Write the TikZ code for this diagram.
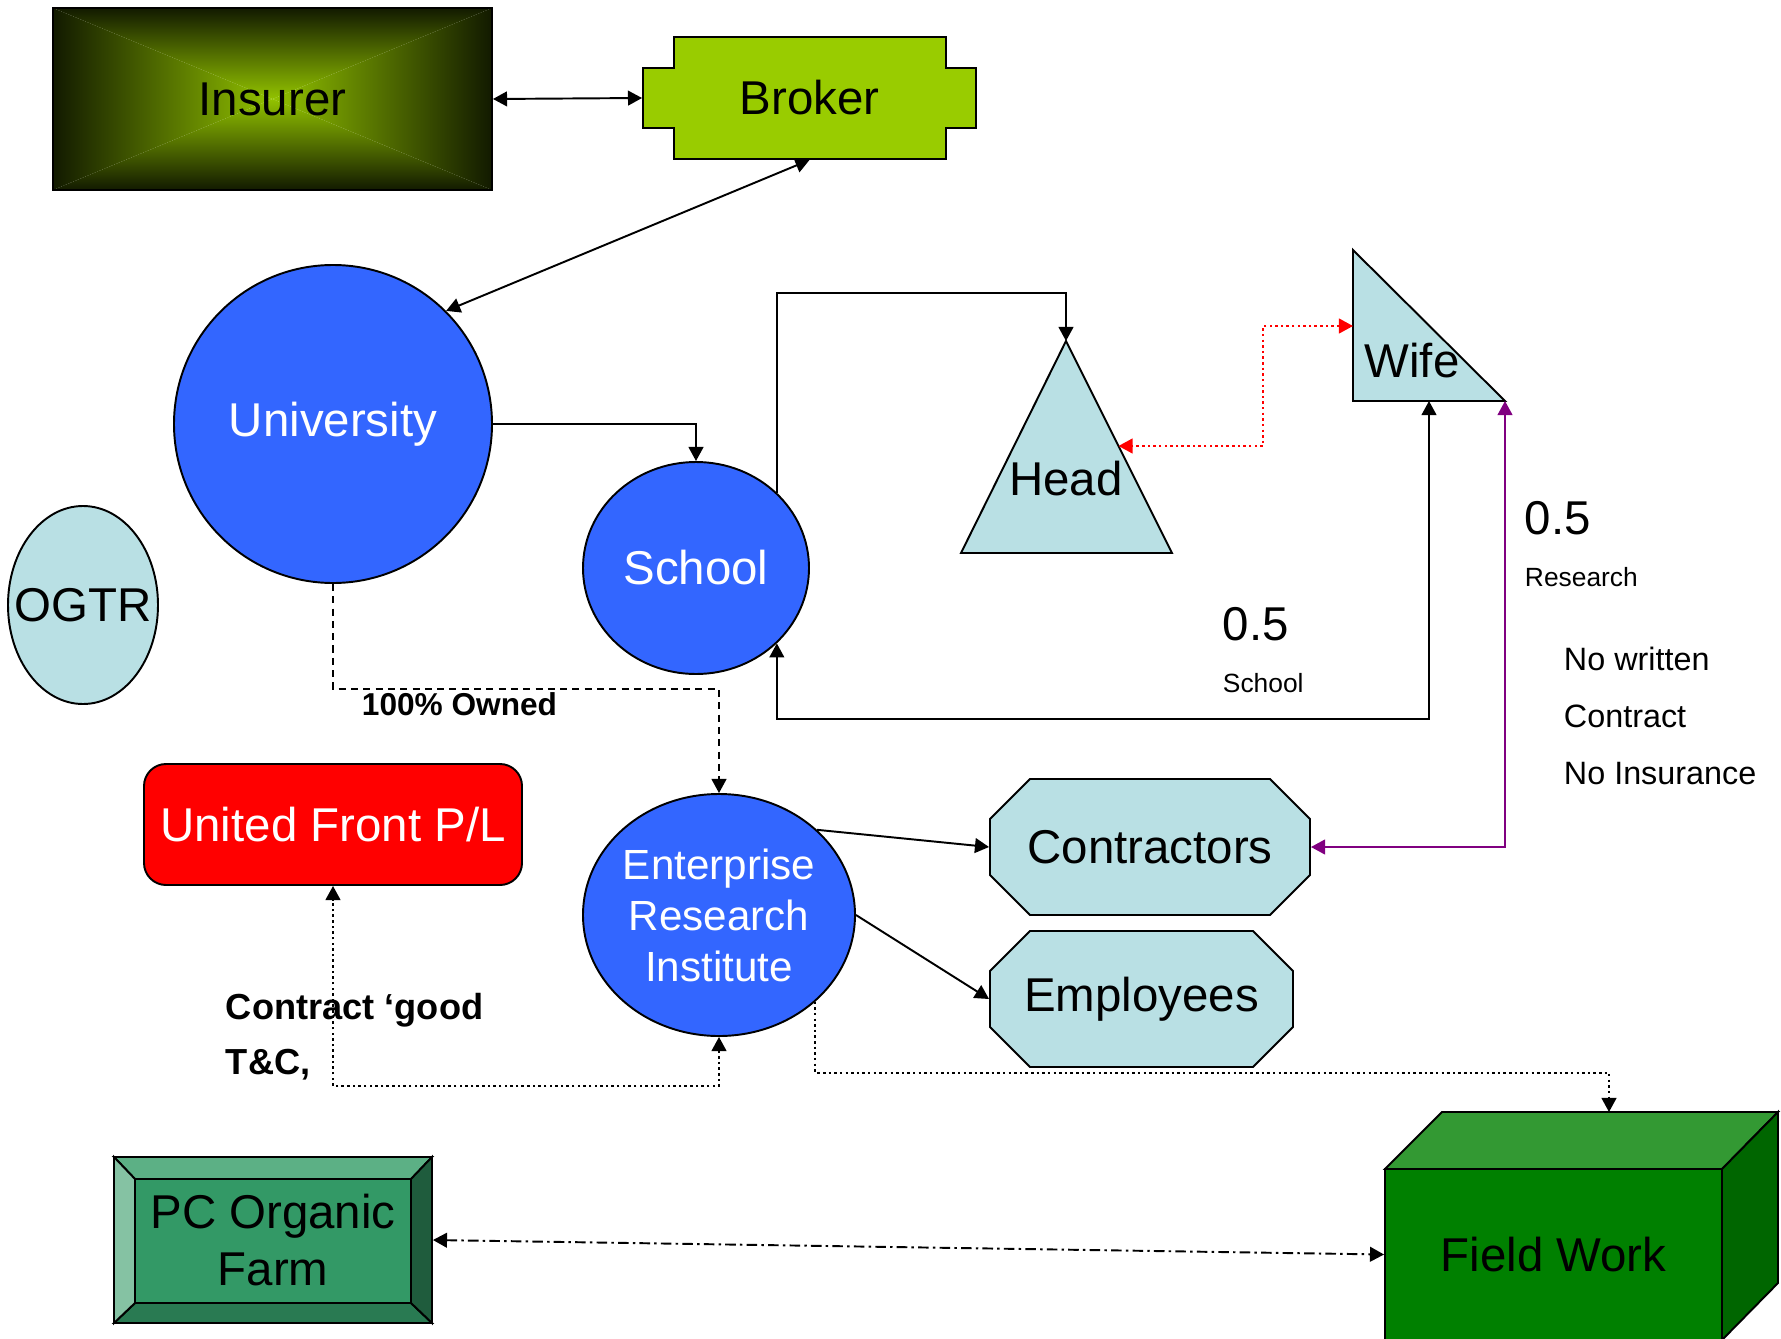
\documentclass[tikz,border=0pt]{standalone}
\usepackage{fontspec}
\setmainfont{Liberation Sans}
\usetikzlibrary{arrows.meta,shapes.geometric}
\definecolor{uniblue}{RGB}{51,102,255}
\definecolor{paleblue}{RGB}{185,224,228}
\definecolor{brokergreen}{RGB}{153,204,0}
\definecolor{insmid}{RGB}{146,194,0}
\definecolor{insdark}{RGB}{18,26,0}
\definecolor{farmface}{RGB}{51,153,102}
\definecolor{farmlight}{RGB}{92,176,133}
\definecolor{farmpale}{RGB}{133,194,163}
\definecolor{farmdark}{RGB}{31,92,61}
\definecolor{farmlow}{RGB}{41,122,82}
\definecolor{fieldtop}{RGB}{51,153,51}
\definecolor{fieldfront}{RGB}{0,128,0}
\definecolor{fieldside}{RGB}{0,102,0}
\definecolor{linkpurple}{RGB}{128,0,128}
\begin{document}
\begin{tikzpicture}[line width=0.55pt, >={Triangle[length=4pt,width=4.2pt]},
  every node/.style={inner sep=0pt},
  big/.style={font=\fontsize{13.5}{16.2}\selectfont},
  small/.style={font=\fontsize{7.5}{9}\selectfont},
  note/.style={font=\fontsize{9.2}{16.2}\selectfont, align=left},
  boldnote/.style={font=\fontsize{10.3}{15.6}\selectfont\bfseries, align=left},
  pale/.style={draw, fill=paleblue},
  dots/.style={dash pattern=on 0.7pt off 0.9pt}]
  \useasboundingbox (0,0) rectangle (17.81,13.38);
  % insurer, four shaded wedges
  \coordinate (insC) at (2.725,12.39);
  \shade[top color=insdark, bottom color=insmid] (0.53,13.30) -- (4.92,13.30) -- (insC) -- cycle;
  \shade[top color=insmid, bottom color=insdark] (0.53,11.48) -- (4.92,11.48) -- (insC) -- cycle;
  \shade[left color=insdark, right color=insmid] (0.53,13.30) -- (0.53,11.48) -- (insC) -- cycle;
  \shade[left color=insmid, right color=insdark] (4.92,13.30) -- (4.92,11.48) -- (insC) -- cycle;
  \node[draw, big, minimum width=4.39cm, minimum height=1.82cm] (insurer) at (insC) {Insurer};
  % broker
  \draw[fill=brokergreen] (6.74,13.01) -- (9.46,13.01) -- (9.46,12.70) -- (9.76,12.70) -- (9.76,12.10)
    -- (9.46,12.10) -- (9.46,11.79) -- (6.74,11.79) -- (6.74,12.10) -- (6.43,12.10) -- (6.43,12.70) -- (6.74,12.70) -- cycle;
  \node[big, minimum width=3.33cm, minimum height=1.22cm] (broker) at (8.095,12.40) {Broker};
  % university and school
  \node[circle, draw, fill=uniblue, text=white, big, minimum size=3.18cm] (uni) at (3.33,9.14) {University};
  \node[ellipse, draw, fill=uniblue, text=white, big, minimum width=2.26cm, minimum height=2.12cm] (school) at (6.96,7.70) {School};
  % head
  \draw[pale] (10.66,9.97) coordinate (headtip) -- (11.72,7.85) -- (9.61,7.85) -- cycle;
  \coordinate (headside) at (11.185,8.92);
  \node[big] (head) at (10.66,8.59) {Head};
  % wife
  \draw[pale] (13.53,10.88) -- (15.05,9.37) coordinate (wifetip) -- (13.53,9.37) -- cycle;
  \coordinate (wifeside) at (13.53,10.12);
  \coordinate (wifebase) at (14.29,9.37);
  \node[big] (wife) at (14.12,9.77) {Wife};
  % ogtr
  \node[ellipse, pale, big, minimum width=1.5cm, minimum height=1.98cm] (ogtr) at (0.83,7.33) {\makebox[0pt]{OGTR}};
  % united front and institute
  \node[draw, fill=red, rounded corners=0.22cm, text=white, big, minimum width=3.78cm, minimum height=1.21cm] (uf) at (3.33,5.135) {United Front P/L};
  \node[ellipse, draw, fill=uniblue, text=white, align=center, font=\fontsize{12}{14.5}\selectfont,
    minimum width=2.72cm, minimum height=2.42cm] (eri) at (7.19,4.23) {Enterprise\\Research\\Institute};
  % contractors, employees (cut corners)
  \draw[pale] (10.30,5.59) -- (12.70,5.59) -- (13.10,5.19) -- (13.10,4.63) -- (12.70,4.23) -- (10.30,4.23) -- (9.90,4.63) -- (9.90,5.19) -- cycle;
  \node[big, minimum width=3.2cm, minimum height=1.36cm] (contr) at (11.50,4.91) {Contractors};
  \draw[pale] (10.30,4.07) -- (12.53,4.07) -- (12.93,3.67) -- (12.93,3.11) -- (12.53,2.71) -- (10.30,2.71) -- (9.90,3.11) -- (9.90,3.67) -- cycle;
  \node[big, minimum width=3.03cm, minimum height=1.36cm] (empl) at (11.415,3.39) {Employees};
  % farm, bevelled
  \draw[fill=farmlight] (1.14,1.81) -- (4.32,1.81) -- (4.11,1.59) -- (1.35,1.59) -- cycle;
  \draw[fill=farmlow] (1.14,0.15) -- (4.32,0.15) -- (4.11,0.35) -- (1.35,0.35) -- cycle;
  \draw[fill=farmpale] (1.14,0.15) -- (1.14,1.81) -- (1.35,1.59) -- (1.35,0.35) -- cycle;
  \draw[fill=farmdark] (4.32,0.15) -- (4.32,1.81) -- (4.11,1.59) -- (4.11,0.35) -- cycle;
  \draw[fill=farmface] (1.35,0.35) rectangle (4.11,1.59);
  \node[draw, big, align=center, minimum width=3.18cm, minimum height=1.66cm] (pcf) at (2.73,0.98) {PC Organic\\Farm};
  % field work box
  \draw[fill=fieldtop] (13.85,1.69) -- (14.42,2.26) -- (17.78,2.26) -- (17.22,1.69) -- cycle;
  \draw[fill=fieldside] (17.22,1.69) -- (17.78,2.26) -- (17.78,0.55) -- (17.22,-0.02) -- cycle;
  \node[draw, fill=fieldfront, big, minimum width=3.37cm, minimum height=1.71cm] (field) at (15.535,0.835) {Field Work};
  \coordinate (fieldback) at (16.09,2.26);
  % links
  \draw[<->] (insurer.east) -- (broker.west);
  \draw[<->] (broker.south) -- (uni.45);
  \draw[->] (uni.east) -| (school.north);
  \draw[->] (school.43) -- ++(0,2.0) -| (headtip);
  \draw[<->] (school.-43) -- ++(0,-0.76) -| (wifebase);
  \draw[<->, red, dots] (wifeside) -- ++(-0.90,0) |- (headside);
  \draw[<->, linkpurple] (contr.east) -| (wifetip);
  \draw[->, dash pattern=on 2pt off 1.5pt] (uni.south) -- ++(0,-1.05) -| (eri.north);
  \draw[->] (eri.41) -- (contr.west);
  \draw[->] (eri.east) -- (empl.west);
  \draw[->, dots] (eri.-42) -- ++(0,-0.71) -| (fieldback);
  \draw[<->, dots] (eri.south) -- ++(0,-0.49) -| (uf.south);
  \draw[<->, dash pattern=on 3pt off 1.2pt on 0.7pt off 1.2pt] (pcf.east) -- (field.west);
  % labels
  \node[boldnote, font=\fontsize{9}{11}\selectfont\bfseries, anchor=west] (owned) at (3.61,6.34) {100\% Owned};
  \node[boldnote, anchor=west] (tc) at (2.25,3.015) {Contract ‘good\\T\&C,};
  \node[big, anchor=west] (shareS) at (12.22,7.14) {0.5};
  \node[small, anchor=west] (shareSname) at (12.22,6.55) {School};
  \node[big, anchor=west] (shareR) at (15.24,8.20) {0.5};
  \node[small, anchor=west] (shareRname) at (15.24,7.61) {Research};
  \node[note, anchor=west] (nocontract) at (15.63,6.22) {No written\\Contract\\No Insurance};
\end{tikzpicture}
\end{document}
